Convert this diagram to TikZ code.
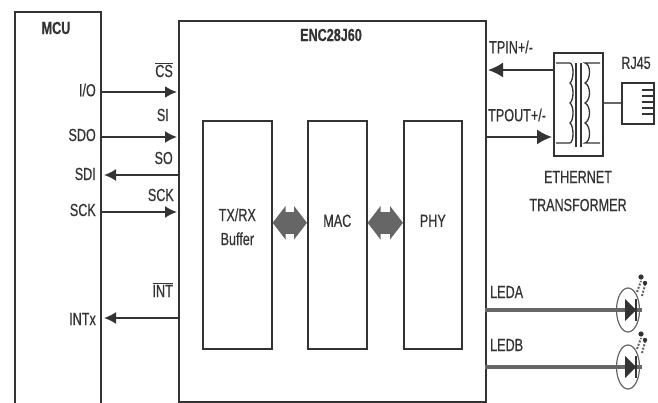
\documentclass[tikz,border=0pt]{standalone}
\usepackage{fontspec}
\setmainfont[FakeStretch=0.72,FakeBold=0.5]{Liberation Sans}
\usetikzlibrary{arrows.meta,shapes.geometric}
\definecolor{inkgray}{gray}{0.2}
\definecolor{fatgray}{gray}{0.4}
\begin{document}
\begin{tikzpicture}[
    x=1pt,y=-1pt,
    block/.style={
        draw=inkgray,
        line width=1.6pt,
        anchor=north west,
        inner sep=0pt
    },
    txt/.style={
        text=inkgray,
        inner sep=0pt,
        font=\fontsize{17.5}{19}\selectfont
    },
    head/.style={txt,font=\fontsize{17.5}{19}\selectfont\bfseries},
    sig/.style={
        draw=inkgray,
        line width=1.8pt,
        -{Latex[length=12pt,width=12pt]}
    },
    wire/.style={draw=fatgray,line width=3.4pt},
    link/.style={
        draw=fatgray,
        line width=22pt,
        {Triangle[length=13pt,width=33pt]}-{Triangle[length=13pt,width=33pt]}
    },
    thin line/.style={draw=inkgray,line width=1.3pt},
    ledring/.style={
        ellipse,
        draw=fatgray,
        line width=1.2pt,
        minimum width=23pt,
        minimum height=44pt,
        inner sep=0pt
    }
]
\useasboundingbox (0,0) rectangle (658,403);

% MCU side
\node[anchor=north west,minimum width=85.5pt,minimum height=391pt,inner sep=0pt] (mcu) at (15,12) {};
\draw[draw=inkgray,line width=1.6pt] (mcu.south west)--(mcu.north west)--(mcu.north east)--(mcu.south east);
\node[head] (mcuname) at (56,28) {MCU};

\node[txt,anchor=east] (io)   at (96,90)  {I/O};
\node[txt,anchor=east] (sdo)  at (96,135) {SDO};
\node[txt,anchor=east] (sdi)  at (96,174) {SDI};
\node[txt,anchor=east] (sck)  at (96,210) {SCK};
\node[txt,anchor=east] (intx) at (96,319) {INTx};

% ENC28J60
\node[block,minimum width=307pt,minimum height=381pt] (enc) at (178,20) {};
\node[head] (encname) at (331,35) {ENC28J60};

\node[block,minimum width=69pt,minimum height=228pt,align=center,
      label={[txt,align=center,yshift=8pt]center:TX/RX\\[5pt]Buffer}] (buf) at (202,120) {};
\node[block,minimum width=59pt,minimum height=228pt,
      label={[txt,yshift=14pt]center:MAC}] (mac) at (307,120) {};
\node[block,minimum width=58pt,minimum height=228pt,
      label={[txt,yshift=14pt]center:PHY}] (phy) at (403,120) {};

\draw[link] ([yshift=12pt]buf.east) -- ([yshift=12pt]mac.west);
\draw[link] ([yshift=12pt]mac.east) -- ([yshift=12pt]phy.west);

% pins between MCU and ENC28J60
\node[txt,anchor=east] (cs)   at (173,70)  {$\overline{\mbox{CS}}$};
\node[txt,anchor=east] (si)   at (169,115) {SI};
\node[txt,anchor=east] (so)   at (173,158) {SO};
\node[txt,anchor=east] (sckb) at (174,195) {SCK};
\node[txt,anchor=east] (int)  at (173,290) {$\overline{\mbox{INT}}$};

\coordinate (ioA)   at (100,92);
\coordinate (ioB)   at (177,92);
\coordinate (sdoA)  at (100,137);
\coordinate (sdoB)  at (177,137);
\coordinate (sdiA)  at (178,175);
\coordinate (sdiB)  at (104,175);
\coordinate (sckA)  at (100,212);
\coordinate (sckB)  at (177,212);
\coordinate (intA)  at (178,318);
\coordinate (intB)  at (104,318);

\draw[sig,line width=2.6pt] (ioA)--(ioB);
\draw[sig] (sdoA)--(sdoB);
\draw[sig] (sdiA)--(sdiB);
\draw[sig] (sckA)--(sckB);
\draw[sig] (intA)--(intB);

% transformer
\node[block,minimum width=49pt,minimum height=103pt] (xfmr) at (553,52) {};
\node[block,minimum width=32pt,minimum height=41pt] (rj) at (621,82) {};
\node[txt] (rjname) at (636,63) {RJ45};
\node[txt] (ethname) at (578,177) {ETHERNET};
\node[txt] (xfname) at (578,205) {TRANSFORMER};

\draw[thin line] (556,63)--(570,63) .. controls +(4,1) and +(4,-3) .. ++(0,20)
    .. controls +(4,3) and +(4,-3) .. ++(0,20)
    .. controls +(4,3) and +(4,-3) .. ++(0,20)
    .. controls +(4,3) and +(4,-1) .. ++(0,20) -- (556,143);
\draw[thin line] (600,63)--(585,63) .. controls +(6,1) and +(6,-3) .. ++(0,20)
    .. controls +(6,3) and +(6,-3) .. ++(0,20)
    .. controls +(6,3) and +(6,-3) .. ++(0,20)
    .. controls +(6,3) and +(6,-1) .. ++(0,20) -- (600,143);
\draw[thin line] (576,63)--(576,147);
\draw[thin line] (581,63)--(581,147);

\draw[wire,line width=2.4pt] (xfmr.east |- 0,103)--(rj.west |- 0,103);
\draw[thin line] (642,90)--(653,90);
\draw[thin line] (642,96)--(653,96);
\draw[thin line] (642,102)--(653,102);
\draw[thin line] (642,108)--(653,108);
\draw[thin line] (642,114)--(653,114);

\node[txt,anchor=west] (tpin)  at (489,47)  {TPIN+/-};
\node[txt,anchor=west] (tpout) at (488,115) {TPOUT+/-};

\coordinate (tpinA)  at (553,70);
\coordinate (tpinB)  at (488,70);
\coordinate (tpoutA) at (485,137);
\coordinate (tpoutB) at (552,137);
\draw[sig,-{Latex[length=15pt,width=15pt]}] (tpinA)--(tpinB);
\draw[sig,-{Latex[length=15pt,width=15pt]}] (tpoutA)--(tpoutB);

% LEDs
\begin{scope}[shift={(0,0)}]
\node[txt,anchor=west] (leda) at (490,292) {LEDA};
\node[ledring] (ringa) at (628,310) {};
\coordinate (ledaA) at (485,310);
\coordinate (ledaB) at (642,310);
\draw[wire] (ledaA)--(ledaB);
\fill[inkgray] (625,299)--(636,310)--(625,321)--cycle;
\draw[thin line] (636,299)--(636,321);
\draw[fatgray,line width=2pt,dashed,dash pattern=on 2pt off 1.5pt] (637,292)--(641,281);
\draw[fatgray,line width=2pt,dashed,dash pattern=on 2pt off 1.5pt] (642,296)--(645,285);
\fill[inkgray] (641,277) circle (2.6);
\fill[inkgray] (645,283) circle (2.2);
\end{scope}

\begin{scope}[shift={(0,57)}]
\node[txt,anchor=west] (ledb) at (490,288) {LEDB};
\node[ledring] (ringb) at (628,310) {};
\coordinate (ledbA) at (485,310);
\coordinate (ledbB) at (642,310);
\draw[wire] (ledbA)--(ledbB);
\fill[inkgray] (625,299)--(636,310)--(625,321)--cycle;
\draw[thin line] (636,299)--(636,321);
\draw[fatgray,line width=2pt,dashed,dash pattern=on 2pt off 1.5pt] (637,292)--(641,281);
\draw[fatgray,line width=2pt,dashed,dash pattern=on 2pt off 1.5pt] (642,296)--(645,285);
\fill[inkgray] (641,277) circle (2.6);
\fill[inkgray] (645,283) circle (2.2);
\end{scope}

\end{tikzpicture}
\end{document}
